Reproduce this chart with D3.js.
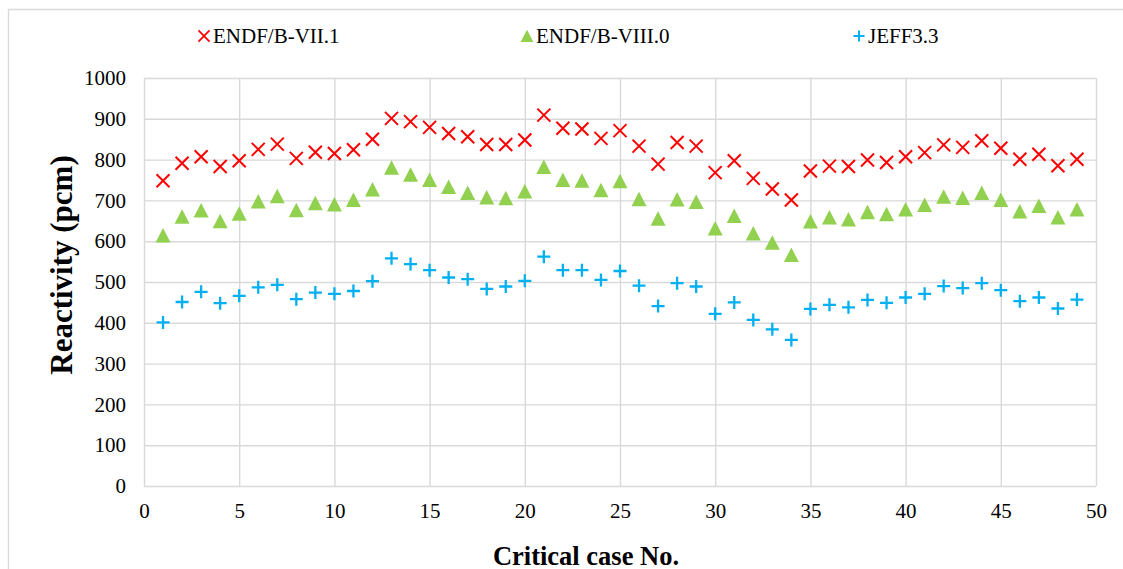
<!DOCTYPE html>
<html lang="en">
<head>
    <meta charset="UTF-8">
    <title>Reactivity</title>
    <script src="https://d3js.org/d3.v7.min.js"></script>
    <style>
        body { margin: 0; background: #fff; }
        text { fill: #000; }
    </style>
</head>
<body>

<svg width="1123" height="569" font-family="'Liberation Serif', 'Times New Roman', serif"></svg>
<script>

    // values (pcm)
    var cases = d3.range(1, 50);

    var endf71 = [748, 791, 807, 783, 797, 825, 838, 803, 818, 815, 824, 850,
        901, 893, 879, 864, 856, 837, 837, 848, 909, 877, 875, 852, 871,
        833, 789, 842, 833, 768, 797, 754, 728, 701, 772, 784, 783,
        799, 793, 807, 817, 836, 830, 846, 828, 801, 813, 785, 801];

    var endf80 = [614, 660, 675, 649, 667, 697, 710, 676, 693, 690, 701, 727,
        780, 763, 750, 733, 718, 707, 705, 722, 782, 750, 748, 725, 747,
        703, 655, 702, 696, 631, 662, 619, 596, 566, 648, 658, 653,
        671, 666, 678, 689, 709, 706, 718, 701, 673, 686, 658, 678];

    var jeff33 = [401, 451, 476, 448, 466, 487, 493, 458, 474, 471, 478, 502,
        558, 544, 529, 511, 507, 483, 489, 503, 562, 529, 529, 505, 527,
        491, 441, 497, 489, 422, 450, 407, 384, 358, 434, 444, 438,
        456, 449, 462, 471, 490, 485, 497, 480, 453, 462, 435, 457];

    var seriesNames = ["ENDF/B-VII.1", "ENDF/B-VIII.0", "JEFF3.3"];
    var seriesColors = ["#ff0000", "#92d050", "#00b0f0"];
    var seriesShapes = ["cross", "triangle", "plus"];
    var seriesValues = [endf71, endf80, jeff33];

    var xTicks = d3.range(0, 51, 5);
    var yTicks = d3.range(0, 1001, 100);

    var svg = d3.select("svg");
    var serif = "'Liberation Serif', 'Times New Roman', serif";

    var plotLeft = 144, plotRight = 1096, plotTop = 78, plotBottom = 486;

    var x = d3.scaleLinear().domain([0, 50]).range([plotLeft, plotRight]);
    var y = d3.scaleLinear().domain([0, 1000]).range([plotBottom, plotTop]);

    // outer chart frame (only left and top edge visible)
    svg.append("path")
        .attr("d", "M8.5,569 V9.5 H1123")
        .attr("fill", "none")
        .attr("stroke", "#d9d9d9")
        .attr("stroke-width", 1.3);

    // grid
    svg.append("g")
        .attr("transform", "translate(0," + plotBottom + ")")
        .call(d3.axisBottom(x).tickValues(xTicks).tickSize(-(plotBottom - plotTop)).tickFormat(""))
        .call(function (g) {
            g.select(".domain").remove();
            g.selectAll("line").attr("stroke", "#d9d9d9").attr("stroke-width", 1.4);
        });

    svg.append("g")
        .attr("transform", "translate(" + plotLeft + ",0)")
        .call(d3.axisLeft(y).tickValues(yTicks).tickSize(-(plotRight - plotLeft)).tickFormat(""))
        .call(function (g) {
            g.select(".domain").remove();
            g.selectAll("line").attr("stroke", "#d9d9d9").attr("stroke-width", 1.4);
        });

    // tick labels
    svg.append("g")
        .attr("transform", "translate(0," + plotBottom + ")")
        .call(d3.axisBottom(x).tickValues(xTicks).tickSize(0).tickPadding(17))
        .call(function (g) {
            g.select(".domain").remove();
            g.attr("font-family", serif);
            g.selectAll("text").attr("font-size", 21);
        });

    svg.append("g")
        .attr("transform", "translate(" + plotLeft + ",0)")
        .call(d3.axisLeft(y).tickValues(yTicks).tickFormat(d3.format("d")).tickSize(0).tickPadding(18))
        .call(function (g) {
            g.select(".domain").remove();
            g.attr("font-family", serif);
            g.selectAll("text").attr("font-size", 21);
        });

    // marker shapes
    function marker(sel, shape, color) {
        if (shape === "cross") {
            sel.append("path")
                .attr("d", "M-6.5,-6.5L6.5,6.5M-6.5,6.5L6.5,-6.5")
                .attr("stroke", color).attr("stroke-width", 2).attr("fill", "none");
        } else if (shape === "triangle") {
            sel.append("path")
                .attr("d", "M0,-7.5L7.5,7L-7.5,7Z")
                .attr("fill", color);
        } else {
            sel.append("path")
                .attr("d", "M-6.5,0H6.5M0,-6.5V6.5")
                .attr("stroke", color).attr("stroke-width", 2.3).attr("fill", "none");
        }
    }

    seriesValues.forEach(function (vals, i) {
        svg.append("g").selectAll("g")
            .data(vals)
            .enter().append("g")
            .attr("transform", function (d, j) {
                return "translate(" + x(cases[j]) + "," + y(d) + ")";
            })
            .each(function () {
                marker(d3.select(this), seriesShapes[i], seriesColors[i]);
            });
    });

    // legend
    var legendX = [204, 527, 859];
    var legend = svg.append("g");
    seriesNames.forEach(function (name, i) {
        var item = legend.append("g")
            .attr("transform", "translate(" + legendX[i] + ",36)");
        var m = item.append("g").attr("transform", "scale(0.85)");
        marker(m, seriesShapes[i], seriesColors[i]);
        item.append("text")
            .attr("x", 9)
            .attr("y", 7)
            .attr("font-size", 21)
            .text(name);
    });

    // axis titles
    svg.append("text")
        .attr("x", 586)
        .attr("y", 565)
        .attr("text-anchor", "middle")
        .attr("font-size", 26.5)
        .attr("font-weight", "bold")
        .text("Critical case No.");

    svg.append("text")
        .attr("transform", "translate(72,265) rotate(-90)")
        .attr("text-anchor", "middle")
        .attr("font-size", 31)
        .attr("font-weight", "bold")
        .text("Reactivity (pcm)");

</script>

</body>
</html>
